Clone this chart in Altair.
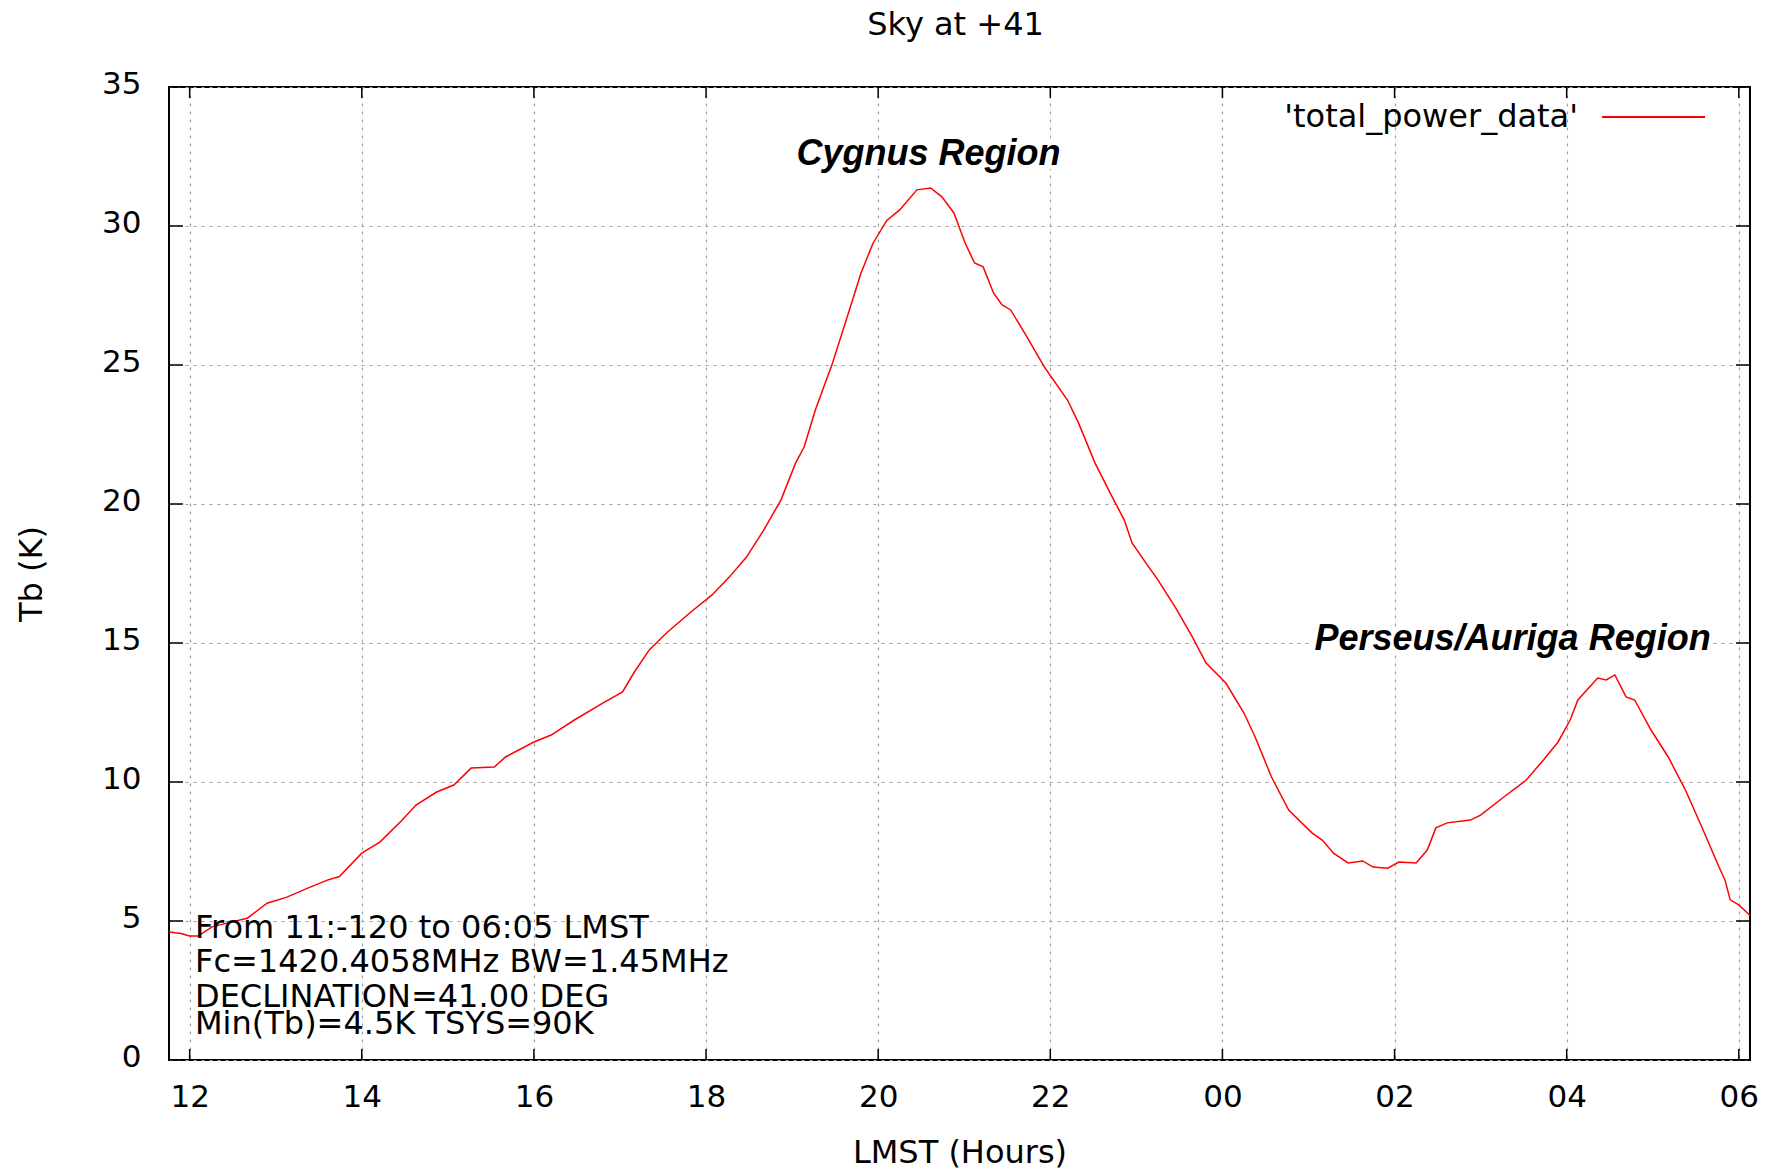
import altair as alt
import pandas as pd

# ---------------- data ----------------
lmst_hours = [
    11.76, 11.9, 12.0, 12.1, 12.26, 12.48, 12.67, 12.9, 13.13, 13.4, 13.6, 13.74,
    14.0, 14.21, 14.47, 14.63, 14.87, 15.07, 15.27, 15.54, 15.67, 16.0, 16.2, 16.47,
    16.8, 17.03, 17.16, 17.34, 17.54, 17.81, 18.07, 18.27, 18.47, 18.67, 18.87, 19.04,
    19.14, 19.27, 19.47, 19.64, 19.8, 19.94, 20.1, 20.25, 20.45, 20.61, 20.74, 20.88,
    21.01, 21.12, 21.22, 21.34, 21.44, 21.54, 21.73, 21.93, 22.2, 22.33, 22.52, 22.72,
    22.86, 22.95, 23.11, 23.25, 23.45, 23.65, 23.81, 24.04, 24.25, 24.38, 24.57, 24.77,
    25.04, 25.16, 25.29, 25.46, 25.63, 25.75, 25.92, 26.05, 26.25, 26.38, 26.48, 26.61,
    26.88, 27.0, 27.27, 27.53, 27.73, 27.9, 28.04, 28.13, 28.36, 28.46, 28.56, 28.69,
    28.79, 28.98, 29.18, 29.38, 29.57, 29.77, 29.84, 29.9, 30.0, 30.1, 30.13,
]
tb_kelvin = [
    4.60, 4.55, 4.46, 4.46, 4.79, 4.96, 5.10, 5.64, 5.86, 6.22, 6.47, 6.60,
    7.44, 7.84, 8.63, 9.17, 9.64, 9.89, 10.50, 10.54, 10.90, 11.44, 11.69, 12.23,
    12.84, 13.24, 13.92, 14.75, 15.36, 16.08, 16.73, 17.37, 18.09, 19.06, 20.14, 21.47,
    22.05, 23.38, 25.07, 26.73, 28.30, 29.38, 30.20, 30.58, 31.30, 31.37, 31.05, 30.47,
    29.39, 28.67, 28.53, 27.59, 27.16, 26.98, 26.00, 24.93, 23.74, 22.90, 21.47, 20.25,
    19.42, 18.60, 17.88, 17.27, 16.30, 15.22, 14.28, 13.56, 12.48, 11.62, 10.18, 8.99,
    8.17, 7.91, 7.44, 7.09, 7.16, 6.94, 6.90, 7.12, 7.09, 7.55, 8.35, 8.53,
    8.63, 8.81, 9.46, 10.07, 10.79, 11.44, 12.23, 12.95, 13.74, 13.67, 13.85, 13.06,
    12.95, 11.87, 10.90, 9.71, 8.38, 6.94, 6.47, 5.76, 5.58, 5.29, 5.20,
]
series_name = "'total_power_data'"

x_tick_values = [12, 14, 16, 18, 20, 22, 24, 26, 28, 30]
x_tick_labels = ["12", "14", "16", "18", "20", "22", "00", "02", "04", "06"]
y_tick_values = [0, 5, 10, 15, 20, 25, 30, 35]

region_labels = ["Cygnus Region", "Perseus/Auriga Region"]
region_label_x = [19.05, 25.07]
region_label_y = [32.2, 14.75]

info_lines = [
    "From 11:-120 to 06:05 LMST",
    "Fc=1420.4058MHz BW=1.45MHz",
    "DECLINATION=41.00 DEG",
    "Min(Tb)=4.5K TSYS=90K",
]
chart_title = "Sky at +41"

# ---------------- layout constants ----------------
W, H = 1581, 973
X_DOMAIN = [11.76, 30.13]
Y_DOMAIN = [0, 35]
INFO_X = 26
INFO_BASELINES = [851, 885, 920, 947]
FONT = "DejaVu Sans"

xs = alt.Scale(domain=X_DOMAIN, nice=False, zero=False)
ys = alt.Scale(domain=Y_DOMAIN, nice=False, zero=False)

label_expr = (
    "[" + ",".join(f"'{l}'" for l in x_tick_labels) + "]"
    + "[indexof([" + ",".join(str(v) for v in x_tick_values) + "], datum.value)]"
)

grid_kw = dict(grid=True, gridColor="#a0a0a0", gridDash=[3, 5], gridWidth=1.2,
               ticks=False, tickSize=0, domain=False, labelColor="black",
               titleColor="black", labelFont=FONT, titleFont=FONT,
               titleFontWeight="normal", labelOverlap=False, labelFlush=False,
               labelBound=False)

x_axis = alt.Axis(values=x_tick_values, labelExpr=label_expr, title="LMST (Hours)",
                  labelPadding=22, labelFontSize=31, titleFontSize=32,
                  titleY=102, titleBaseline="alphabetic", **grid_kw)
y_axis = alt.Axis(values=y_tick_values, title="Tb (K)", labelPadding=28,
                  labelFontSize=31, labelBaseline="middle",
                  labelOffset={"expr": "-3"}, titleFontSize=32,
                  titleX=-128, titleAngle=270, titleBaseline="alphabetic", **grid_kw)

df = pd.DataFrame({"lmst": lmst_hours, "tb": tb_kelvin, "series": series_name})

line = alt.Chart(df).mark_line(strokeWidth=1.5).encode(
    x=alt.X("lmst:Q", scale=xs, axis=x_axis),
    y=alt.Y("tb:Q", scale=ys, axis=y_axis),
    color=alt.Color("series:N",
                    scale=alt.Scale(domain=[series_name], range=["#ff0000"]),
                    legend=alt.Legend(orient="none", legendX=1432,
                                      legendY={"expr": "-22.5"},
                                      title=None, symbolType="stroke",
                                      symbolSize=10609, symbolStrokeWidth=2,
                                      labelAlign="right",
                                      labelOffset={"expr": "-128"},
                                      labelFontSize=32, labelFont=FONT,
                                      labelColor="black", labelLimit=0,
                                      padding=0)),
)

# inward tick marks on all four sides (gnuplot style)
xt = pd.DataFrame({"v": x_tick_values})
yt = pd.DataFrame({"v": y_tick_values})
tick_style = dict(color="black", strokeWidth=1.5)
tick_bottom = alt.Chart(xt).mark_rule(**tick_style).encode(
    x=alt.X("v:Q", scale=xs, axis=x_axis), y=alt.value(H), y2=alt.value(H - 11))
tick_top = alt.Chart(xt).mark_rule(**tick_style).encode(
    x=alt.X("v:Q", scale=xs, axis=x_axis), y=alt.value(0), y2=alt.value(11))
tick_left = alt.Chart(yt).mark_rule(**tick_style).encode(
    y=alt.Y("v:Q", scale=ys, axis=y_axis), x=alt.value(0), x2=alt.value(14))
tick_right = alt.Chart(yt).mark_rule(**tick_style).encode(
    y=alt.Y("v:Q", scale=ys, axis=y_axis), x=alt.value(W - 14), x2=alt.value(W))

# region labels (bold italic, with a white halo hiding the grid like gnuplot)
rdf = pd.DataFrame({"label": region_labels, "x": region_label_x, "y": region_label_y})
reg_kw = dict(align="left", baseline="alphabetic", font="Liberation Sans",
              fontSize=36, fontWeight="bold", fontStyle="italic")
reg_enc = dict(x=alt.X("x:Q", scale=xs, axis=x_axis),
               y=alt.Y("y:Q", scale=ys, axis=y_axis), text="label:N")
reg_halo = alt.Chart(rdf).mark_text(color="white", stroke="white",
                                    strokeWidth=8, **reg_kw).encode(**reg_enc)
reg_text = alt.Chart(rdf).mark_text(color="black", **reg_kw).encode(**reg_enc)

# info text block in lower-left corner
info_layers = []
for txt, yb in zip(info_lines, INFO_BASELINES):
    info_layers.append(
        alt.Chart(pd.DataFrame({"t": [txt]})).mark_text(
            align="left", baseline="alphabetic", font=FONT, fontSize=32,
            color="black").encode(x=alt.value(INFO_X), y=alt.value(yb), text="t:N"))

# chart title above the plot
title_layer = alt.Chart(pd.DataFrame({"t": [chart_title]})).mark_text(
    align="center", baseline="alphabetic", font=FONT, fontSize=32,
    color="black").encode(x=alt.value(W / 2 - 4), y=alt.value(-52), text="t:N")

chart = alt.layer(
    line, tick_bottom, tick_top, tick_left, tick_right,
    *info_layers, reg_halo, reg_text, title_layer,
).properties(
    width=W, height=H,
    autosize=alt.AutoSizeParams(type="none"),
    padding={"left": 169, "top": 87, "right": 19, "bottom": 110},
    background="white",
).configure_view(
    stroke="black", strokeWidth=2
)

chart.save("out.html", embed_options={"renderer": "svg", "actions": False})
